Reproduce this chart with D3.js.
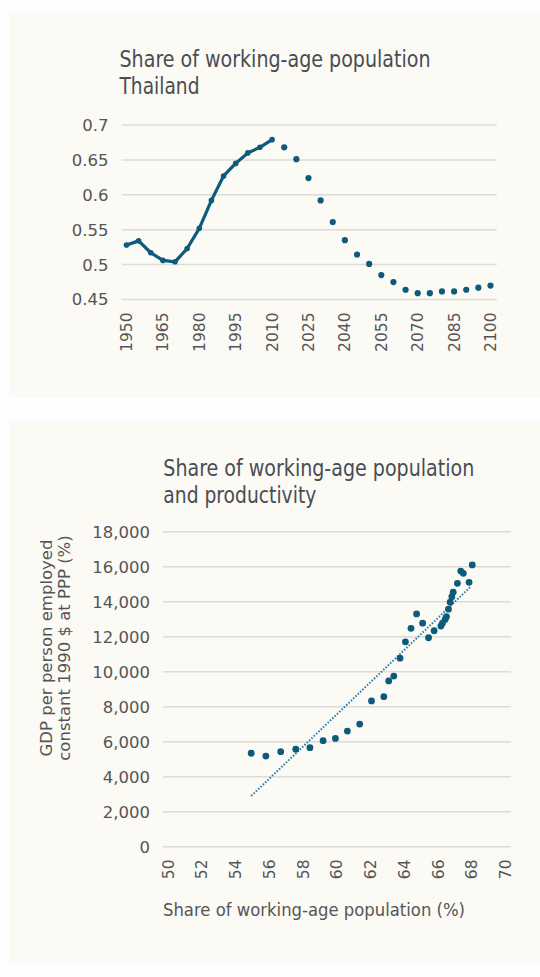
<!DOCTYPE html>
<html>
<head>
<meta charset="utf-8">
<script src="https://cdn.jsdelivr.net/npm/d3@7"></script>
<style>
  html, body { margin: 0; padding: 0; background: #fefefe; }
  svg { display: block; }
</style>
</head>
<body>
<svg id="chart" width="540" height="977"></svg>
<script>
// ---------- Data: top chart (share of working-age population, Thailand) ----------
const actualYears = [1950, 1955, 1960, 1965, 1970, 1975, 1980, 1985, 1990, 1995, 2000, 2005, 2010];
const actualShare = [0.528, 0.534, 0.517, 0.506, 0.504, 0.523, 0.552, 0.592, 0.627, 0.645, 0.660, 0.668, 0.679];
const projYears = [2015, 2020, 2025, 2030, 2035, 2040, 2045, 2050, 2055, 2060, 2065, 2070, 2075, 2080, 2085, 2090, 2095, 2100];
const projShare = [0.668, 0.651, 0.624, 0.592, 0.561, 0.535, 0.5145, 0.501, 0.485, 0.475, 0.464, 0.459, 0.459, 0.4615, 0.4615, 0.464, 0.467, 0.470];
const topYTicks = [0.45, 0.5, 0.55, 0.6, 0.65, 0.7];
const topYLabels = ["0.45", "0.5", "0.55", "0.6", "0.65", "0.7"];
const topXTicks = [1950, 1965, 1980, 1995, 2010, 2025, 2040, 2055, 2070, 2085, 2100];

// ---------- Data: bottom chart (working-age share vs productivity) ----------
const workingShare = [68.03, 67.35, 67.5, 67.15, 67.84, 66.9, 66.82, 66.72, 66.62, 66.5, 66.42, 66.26, 66.17,
  65.77, 65.44, 65.09, 64.73, 64.4, 64.07, 63.75, 63.38, 63.08, 62.79, 62.06, 61.36, 60.63, 59.92, 59.19,
  58.41, 57.57, 56.68, 55.8, 54.93];
const gdpPerWorker = [16100, 15750, 15620, 15050, 15110, 14540, 14290, 13970, 13570, 13140, 12990, 12770, 12610,
  12340, 11940, 12770, 13300, 12480, 11710, 10770, 9750, 9470, 8570, 8330, 7010, 6610, 6190, 6060,
  5660, 5570, 5430, 5180, 5340];
const trendX = [54.93, 67.94];
const trendY = [2900, 14860];
const botYTicks = [0, 2000, 4000, 6000, 8000, 10000, 12000, 14000, 16000, 18000];
const botXTicks = [50, 52, 54, 56, 58, 60, 62, 64, 66, 68, 70];

// ---------- Styles ----------
const panelFill = "#fbfaf5";
const gridColor = "#dcdcd8";
const markColor = "#0d5a7b";
const trendColor = "#2f82ad";
const labelColor = "#555555";
const titleColor = "#484d53";
const tickFont = "'DejaVu Sans', 'Liberation Sans', sans-serif";
const titleFont = "'Liberation Sans Narrow', 'DejaVu Sans Condensed', 'Roboto Condensed', 'Liberation Sans', sans-serif";

const svg = d3.select("#chart");

// Panels
svg.append("rect").attr("x", 9).attr("y", 13).attr("width", 531).attr("height", 385).attr("fill", panelFill);
svg.append("rect").attr("x", 9).attr("y", 421).attr("width", 531).attr("height", 542).attr("fill", panelFill);

function title(lines, x, y0) {
  lines.forEach((t, i) => {
    svg.append("text")
      .attr("x", x).attr("y", y0 + i * 27)
      .attr("font-family", titleFont)
      .attr("font-size", 23)
      .attr("fill", titleColor)
      .attr("textLength", t.len).attr("lengthAdjust", "spacingAndGlyphs")
      .text(t.text);
  });
}

// ================= TOP CHART =================
const xTop = d3.scaleLinear().domain([1950, 2100]).range([126.5, 490.5]);
const yTop = d3.scaleLinear().domain([0.45, 0.7]).range([299.5, 125]);
const topGridX = [121.7, 496.7];

title([{ text: "Share of working-age population", len: 311 }, { text: "Thailand", len: 80 }], 119.5, 67.3);

const gTop = svg.append("g");
gTop.selectAll("line.grid").data(topYTicks).join("line")
  .attr("x1", topGridX[0]).attr("x2", topGridX[1])
  .attr("y1", d => yTop(d)).attr("y2", d => yTop(d))
  .attr("stroke", gridColor).attr("stroke-width", 1.5);

gTop.selectAll("text.ylab").data(topYTicks).join("text")
  .attr("x", 108.5).attr("y", d => yTop(d)).attr("dy", "0.36em")
  .attr("text-anchor", "end")
  .attr("font-family", tickFont).attr("font-size", 16.5).attr("fill", labelColor)
  .text((d, i) => topYLabels[i]);

gTop.selectAll("text.xlab").data(topXTicks).join("text")
  .attr("transform", d => `translate(${xTop(d)},312.5) rotate(-90)`)
  .attr("dy", "0.36em")
  .attr("text-anchor", "end")
  .attr("font-family", tickFont).attr("font-size", 15.5).attr("fill", labelColor)
  .text(d => d);

const actual = actualYears.map((y, i) => [y, actualShare[i]]);
const proj = projYears.map((y, i) => [y, projShare[i]]);

gTop.append("path").datum(actual)
  .attr("d", d3.line().x(d => xTop(d[0])).y(d => yTop(d[1])))
  .attr("fill", "none").attr("stroke", markColor).attr("stroke-width", 3.2)
  .attr("stroke-linejoin", "round");
gTop.selectAll("circle.act").data(actual).join("circle")
  .attr("cx", d => xTop(d[0])).attr("cy", d => yTop(d[1])).attr("r", 2.8)
  .attr("fill", markColor);
gTop.selectAll("circle.proj").data(proj).join("circle")
  .attr("cx", d => xTop(d[0])).attr("cy", d => yTop(d[1])).attr("r", 3.1)
  .attr("fill", markColor);

// ================= BOTTOM CHART =================
const xBot = d3.scaleLinear().domain([50, 70]).range([168, 505.5]);
const yBot = d3.scaleLinear().domain([0, 18000]).range([846.7, 531.7]);
const botGridX = [163, 511];

title([{ text: "Share of working-age population", len: 311 }, { text: "and productivity", len: 153 }], 163.3, 476);

const gBot = svg.append("g");
gBot.selectAll("line.grid").data(botYTicks).join("line")
  .attr("x1", botGridX[0]).attr("x2", botGridX[1])
  .attr("y1", d => yBot(d)).attr("y2", d => yBot(d))
  .attr("stroke", gridColor).attr("stroke-width", 1.5);

const fmt = d3.format(",");
gBot.selectAll("text.ylab").data(botYTicks).join("text")
  .attr("x", 150).attr("y", d => yBot(d)).attr("dy", "0.36em")
  .attr("text-anchor", "end")
  .attr("font-family", tickFont).attr("font-size", 16.5).attr("fill", labelColor)
  .text(d => fmt(d));

gBot.selectAll("text.xlab").data(botXTicks).join("text")
  .attr("transform", d => `translate(${xBot(d)},859.5) rotate(-90)`)
  .attr("dy", "0.36em")
  .attr("text-anchor", "end")
  .attr("font-family", tickFont).attr("font-size", 15.5).attr("fill", labelColor)
  .text(d => d);

// axis titles
gBot.append("text")
  .attr("x", 163).attr("y", 916)
  .attr("font-family", tickFont).attr("font-size", 17).attr("fill", labelColor)
  .attr("textLength", 302).attr("lengthAdjust", "spacingAndGlyphs")
  .text("Share of working-age population (%)");

const yTitle = gBot.append("text")
  .attr("transform", "translate(0,648) rotate(-90)")
  .attr("text-anchor", "middle")
  .attr("font-family", tickFont).attr("font-size", 16.5).attr("fill", labelColor);
yTitle.append("tspan").attr("x", 0).attr("y", 52).text("GDP per person employed");
yTitle.append("tspan").attr("x", 0).attr("y", 70).text("constant 1990 $ at PPP (%)");

// trend line
const trend = trendX.map((x, i) => [x, trendY[i]]);
gBot.append("path").datum(trend)
  .attr("d", d3.line().x(d => xBot(d[0])).y(d => yBot(d[1])))
  .attr("fill", "none").attr("stroke", trendColor).attr("stroke-width", 2)
  .attr("stroke-dasharray", "1.6,1.6");

const pts = workingShare.map((x, i) => [x, gdpPerWorker[i]]);
gBot.selectAll("circle.pt").data(pts).join("circle")
  .attr("cx", d => xBot(d[0])).attr("cy", d => yBot(d[1])).attr("r", 3.4)
  .attr("fill", markColor);
</script>
</body>
</html>
